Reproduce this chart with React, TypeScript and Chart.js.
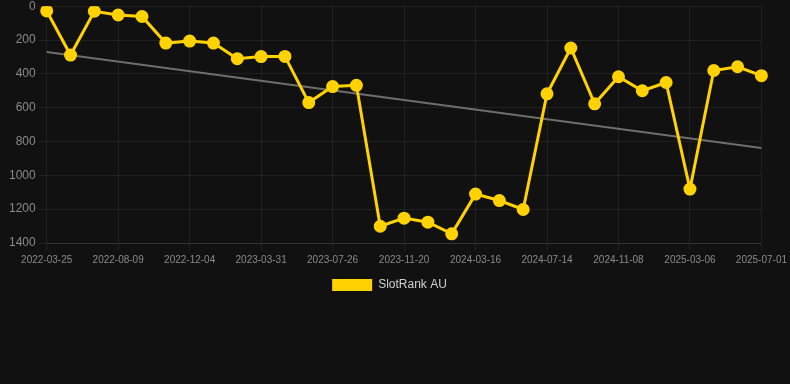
import React, { useEffect, useRef } from "react";
import { Chart, registerables } from "chart.js";

Chart.register(...registerables);

const dates: string[] = [
  "2022-03-25", "2022-05-10", "2022-06-25", "2022-08-09", "2022-09-17", "2022-10-26",
  "2022-12-04", "2023-01-12", "2023-02-20", "2023-03-31", "2023-05-09", "2023-06-17",
  "2023-07-26", "2023-09-03", "2023-10-12", "2023-11-20", "2023-12-29", "2024-02-06",
  "2024-03-16", "2024-04-25", "2024-06-04", "2024-07-14", "2024-08-22", "2024-09-30",
  "2024-11-08", "2024-12-17", "2025-01-26", "2025-03-06", "2025-04-14", "2025-05-23",
  "2025-07-01",
];

const rankAU: number[] = [
  28, 289, 30, 52, 61, 218, 206, 218, 310, 298, 297, 570, 475, 468, 1301, 1253, 1277,
  1346, 1111, 1149, 1202, 518, 247, 577, 417, 500, 451, 1081, 380, 358, 411,
];

const trendStart = 271;
const trendEnd = 838;
const trend: (number | null)[] = dates.map((_, i) =>
  i === 0 ? trendStart : i === dates.length - 1 ? trendEnd : null
);

const yTicks: number[] = [0, 200, 400, 600, 800, 1000, 1200, 1400];

const YELLOW = "#FFD200";
const FONT = "'Liberation Sans', Arial, sans-serif";

export default function App() {
  const ref = useRef<HTMLCanvasElement | null>(null);

  useEffect(() => {
    document.body.style.margin = "0";
    document.body.style.background = "#111111";
    if (!ref.current) return;
    const chart = new Chart(ref.current, {
      type: "line",
      data: {
        labels: dates,
        datasets: [
          {
            label: "SlotRank AU",
            data: rankAU,
            borderColor: YELLOW,
            backgroundColor: YELLOW,
            pointBackgroundColor: YELLOW,
            pointBorderColor: YELLOW,
            pointRadius: 5,
            borderWidth: 3,
            tension: 0,
          },
          {
            label: "trend",
            data: trend,
            borderColor: "#6e6e6e",
            backgroundColor: "#6e6e6e",
            borderWidth: 2,
            pointRadius: 0,
            spanGaps: true,
          },
        ],
      },
      options: {
        animation: false,
        responsive: false,
        maintainAspectRatio: false,
        layout: { padding: { left: 6, right: 17 } },
        plugins: {
          legend: {
            position: "bottom",
            labels: {
              boxWidth: 40,
              boxHeight: 12,
              color: "#d0d0d0",
              font: { family: FONT, size: 12 },
              generateLabels: (c) =>
                Chart.defaults.plugins.legend.labels
                  .generateLabels(c)
                  .filter((it) => it.text !== "trend")
                  .map((it) => ({ ...it, lineWidth: 0, strokeStyle: YELLOW })),
            },
          },
          tooltip: { enabled: false },
        },
        scales: {
          x: {
            grid: { color: "rgba(255,255,255,0.06)" },
            border: { color: "rgba(255,255,255,0.1)" },
            ticks: {
              autoSkip: false,
              maxRotation: 0,
              color: "#8a8a8a",
              font: { family: FONT, size: 10 },
              callback: (_v, i) => (i % 3 === 0 ? dates[i] : null),
            },
          },
          y: {
            reverse: true,
            min: 0,
            max: 1400,
            grid: { color: "rgba(255,255,255,0.06)" },
            border: { display: false },
            afterBuildTicks: (axis) => {
              axis.ticks = yTicks.map((v) => ({ value: v }));
            },
            ticks: {
              color: "#8a8a8a",
              font: { family: FONT, size: 12 },
              callback: (v) => String(v),
            },
          },
        },
      },
    });
    return () => chart.destroy();
  }, []);

  return (
    <div style={{ width: 790, height: 301, background: "#111111", overflow: "hidden" }}>
      <canvas
        ref={ref}
        width={790}
        height={305}
        style={{ display: "block", marginTop: -4 }}
      />
    </div>
  );
}
